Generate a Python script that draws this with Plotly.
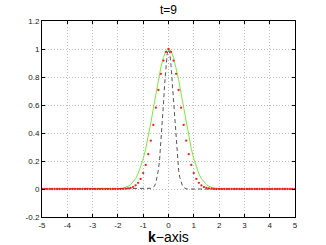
import numpy as np
import plotly.graph_objects as go

# green solid curve (x, y)
green_x = [-5.0, -2.5, -2.2, -2.1, -2.0, -1.9, -1.8, -1.7, -1.6, -1.5, -1.4, -1.3, -1.2, -1.1, -1.0,
           -0.9, -0.8, -0.7, -0.6, -0.5, -0.4, -0.3, -0.2, -0.1, 0.0,
           0.1, 0.2, 0.3, 0.4, 0.5, 0.6, 0.7, 0.8, 0.9, 1.0, 1.1, 1.2, 1.3, 1.4, 1.5,
           1.6, 1.7, 1.8, 1.9, 2.0, 2.1, 2.2, 2.5, 5.0]
green_y = [0.0, 0.0, 0.0006, 0.001, 0.002, 0.004, 0.007, 0.012, 0.019, 0.031, 0.049, 0.074, 0.109, 0.155, 0.215,
           0.288, 0.373, 0.470, 0.575, 0.680, 0.782, 0.871, 0.940, 0.985, 1.0,
           0.985, 0.940, 0.871, 0.782, 0.680, 0.575, 0.470, 0.373, 0.288, 0.215, 0.155, 0.109, 0.074, 0.049, 0.031,
           0.019, 0.012, 0.007, 0.004, 0.002, 0.001, 0.0006, 0.0, 0.0]

# black dashed curve (x, y)
black_x = [-5.0, -0.8, -0.75, -0.7, -0.65, -0.6, -0.55, -0.5, -0.45, -0.4, -0.35, -0.3, -0.25, -0.2, -0.15, -0.1, -0.05, 0.0,
           0.05, 0.1, 0.15, 0.2, 0.25, 0.3, 0.35, 0.4, 0.45, 0.5, 0.55, 0.6, 0.65, 0.7, 0.75, 0.8, 5.0]
black_y = [0.0, 0.0, 0.001, 0.002, 0.005, 0.011, 0.023, 0.044, 0.080, 0.135, 0.216, 0.325, 0.458, 0.607, 0.755, 0.882, 0.969, 1.0,
           0.969, 0.882, 0.755, 0.607, 0.458, 0.325, 0.216, 0.135, 0.080, 0.044, 0.023, 0.011, 0.005, 0.002, 0.001, 0.0, 0.0]

# red dotted series (samples every 0.1 from -5 to 5)
red_x = [round(-5 + 0.1 * i, 1) for i in range(101)]
red_y = [0.0, 0.0, 0.0, 0.0, 0.0, 0.0, 0.0, 0.0, 0.0, 0.0,
         0.0, 0.0, 0.0, 0.0, 0.0, 0.0, 0.0, 0.0, 0.0, 0.0,
         0.0, 0.0, 0.0, 0.0, 0.0, 0.0, 0.0, 0.0, 0.0, 0.0,
         0.0, 0.0, 0.001, 0.002, 0.004, 0.008, 0.014, 0.026, 0.044, 0.072,
         0.114, 0.172, 0.249, 0.345, 0.458, 0.581, 0.707, 0.823, 0.917, 0.979,
         1.0,
         0.979, 0.917, 0.823, 0.707, 0.581, 0.458, 0.345, 0.249, 0.172, 0.114,
         0.072, 0.044, 0.026, 0.014, 0.008, 0.004, 0.002, 0.001, 0.0, 0.0,
         0.0, 0.0, 0.0, 0.0, 0.0, 0.0, 0.0, 0.0, 0.0, 0.0,
         0.0, 0.0, 0.0, 0.0, 0.0, 0.0, 0.0, 0.0, 0.0, 0.0,
         0.0, 0.0, 0.0, 0.0, 0.0, 0.0, 0.0, 0.0, 0.0, 0.0]

x_ticks = [-5, -4, -3, -2, -1, 0, 1, 2, 3, 4, 5]
x_tick_text = ["-5", "-4", "-3", "-2", "-1", "0", "1", "2", "3", "4", "5"]
y_ticks = [-0.2, 0, 0.2, 0.4, 0.6, 0.8, 1.0, 1.2]
y_tick_text = ["-0.2", "0", "0.2", "0.4", "0.6", "0.8", "1", "1.2"]

title_text = "t=9"
xlabel_text = "<b>k</b>\u2212axis"

fig = go.Figure()
fig.add_trace(go.Scatter(x=green_x, y=green_y, mode="lines",
                         line=dict(color="#7ee83c", width=1), hoverinfo="skip"))
fig.add_trace(go.Scatter(x=black_x, y=black_y, mode="lines",
                         line=dict(color="#555555", width=1, dash="4px,3px"), hoverinfo="skip"))
fig.add_trace(go.Scatter(x=red_x, y=red_y, mode="markers",
                         marker=dict(color="#ff1a1a", size=2.3, line=dict(width=0)), hoverinfo="skip"))

axis_common = dict(
    showline=True, linecolor="black", linewidth=1, mirror="ticks",
    ticks="inside", ticklen=3, tickcolor="black", tickwidth=1,
    showgrid=True, gridcolor="#bdbdbd", griddash="1px,2px", gridwidth=1,
    zeroline=False,
    tickfont=dict(family="Liberation Sans, Arial, sans-serif", size=8, color="#222222"),
)

fig.update_layout(
    width=326, height=245,
    margin=dict(l=42, r=31, t=21, b=28),
    paper_bgcolor="white", plot_bgcolor="white",
    showlegend=False,
    xaxis=dict(range=[-5, 5], tickvals=x_ticks, ticktext=x_tick_text, **axis_common),
    yaxis=dict(range=[-0.2, 1.2], tickvals=y_ticks, ticktext=y_tick_text, **axis_common),
    annotations=[
        dict(text=title_text, x=0.5, y=1, xref="paper", yref="paper", yshift=2,
             xanchor="center", yanchor="bottom", showarrow=False,
             font=dict(family="Liberation Sans, Arial, sans-serif", size=12, color="black")),
        dict(text=xlabel_text, x=0.5, y=0, xref="paper", yref="paper", yshift=-10,
             xanchor="center", yanchor="top", showarrow=False,
             font=dict(family="Liberation Sans, Arial, sans-serif", size=14, color="black")),
    ],
)

fig.write_html("out.html", config={"displayModeBar": False},
               post_script="document.body.style.margin='0';document.body.style.overflow='hidden';")
